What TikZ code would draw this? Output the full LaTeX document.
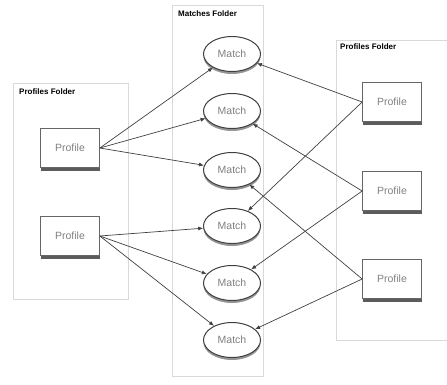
\documentclass[tikz,border=0pt]{standalone}
\usepackage{fontspec}
\setmainfont{Liberation Sans}
\usetikzlibrary{shapes.geometric,shadows,arrows.meta}

\tikzset{
	folder/.style={draw=black!15, line width=.8pt},
	foldername/.style={anchor=west, inner sep=0pt, font=\bfseries\fontsize{8}{9}\selectfont},
	profile/.style={draw=black!60, line width=.7pt, fill=white, minimum width=59pt, minimum height=39pt,
		text=black!50, font=\fontsize{10.5}{12}\selectfont,
		drop shadow={shadow xshift=0pt, shadow yshift=-3pt, fill=black!75, opacity=.85}},
	match/.style={ellipse, draw=black!75, line width=1pt, fill=white, minimum width=57pt, minimum height=35pt,
		text=black!50, font=\fontsize{10.5}{12}\selectfont,
		drop shadow={shadow xshift=0pt, shadow yshift=-2.5pt, fill=black!60, opacity=.7}},
	link/.style={-{Latex[length=5pt,width=4pt]}, black!75, line width=.7pt}
}

\begin{document}
\begin{tikzpicture}[x=1pt,y=-1pt]
	
	\useasboundingbox (0,0) rectangle (447,384);
	\clip (0,0) rectangle (447,384);
	
	% folders
	\draw[folder] (13,83) rectangle (128,299);
	\draw[folder] (172,5) rectangle (263,376);
	\draw[folder] (336,40) rectangle (460,340);
	\node[foldername] (lname) at (19,92) {Profiles Folder};
	\node[foldername] (mname) at (178,14) {Matches Folder};
	\node[foldername] (rname) at (340,47) {Profiles Folder};
	
	% profiles
	\node[profile] (p1) at (70,148) {Profile};
	\node[profile] (p2) at (70,236) {Profile};
	\node[profile] (p3) at (392,102) {Profile};
	\node[profile] (p4) at (392,191) {Profile};
	\node[profile] (p5) at (392,279) {Profile};
	
	% matches
	\node[match] (m1) at (232,54) {Match};
	\node[match] (m2) at (232,111) {Match};
	\node[match] (m3) at (232,170) {Match};
	\node[match] (m4) at (232,226) {Match};
	\node[match] (m5) at (232,283) {Match};
	\node[match] (m6) at (232,340) {Match};
	
	\draw[link] (p1.east) -- (m1);
	\draw[link] (p1.east) -- (m2);
	\draw[link] (p1.east) -- (m3);
	\draw[link] (p2.east) -- (m4);
	\draw[link] (p2.east) -- (m5);
	\draw[link] (p2.east) -- (m6);
	
	\draw[link] (p3.west) -- (m1);
	\draw[link] (p3.west) -- (m4);
	\draw[link] (p4.west) -- (m2);
	\draw[link] (p4.west) -- (m5);
	\draw[link] (p5.west) -- (m3);
	\draw[link] (p5.west) -- (m6);
	
\end{tikzpicture}
\end{document}
